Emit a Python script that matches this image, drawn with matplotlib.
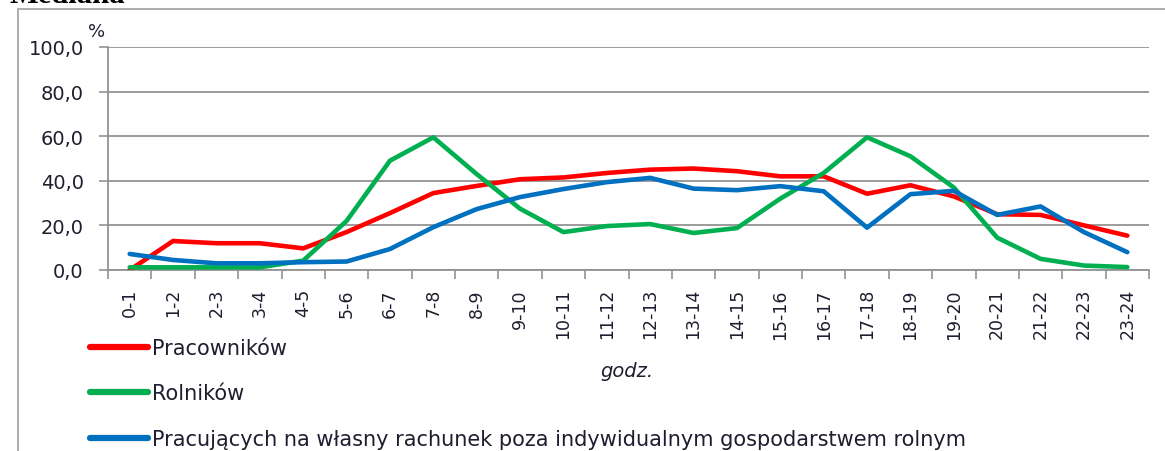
import matplotlib
matplotlib.use("Agg")
import matplotlib.pyplot as plt
from matplotlib.patches import Rectangle
from matplotlib.ticker import FixedLocator, NullFormatter

categories = ["0-1", "1-2", "2-3", "3-4", "4-5", "5-6", "6-7", "7-8", "8-9", "9-10",
              "10-11", "11-12", "12-13", "13-14", "14-15", "15-16", "16-17", "17-18",
              "18-19", "19-20", "20-21", "21-22", "22-23", "23-24"]
pracownikow = [0.0, 13.0, 12.0, 12.0, 9.7, 17.0, 25.5, 34.5, 37.7, 40.7, 41.5, 43.5,
               45.0, 45.5, 44.3, 42.0, 42.0, 34.2, 38.0, 33.0, 25.0, 24.7, 20.0, 15.4]
rolnikow = [1.2, 1.2, 1.2, 1.2, 4.2, 22.0, 49.0, 59.5, 43.0, 27.5, 17.0, 19.7,
            20.6, 16.6, 18.8, 32.0, 43.5, 59.5, 51.0, 37.0, 14.5, 5.0, 2.0, 1.3]
wlasny = [7.2, 4.5, 3.0, 3.0, 3.5, 3.8, 9.4, 19.2, 27.3, 32.7, 36.3, 39.4,
          41.3, 36.5, 35.8, 37.6, 35.3, 19.0, 34.0, 35.5, 24.7, 28.5, 17.0, 8.0]
labels = ["Pracowników", "Rolników",
          "Pracujących na własny rachunek poza indywidualnym gospodarstwem rolnym"]
yticks = [0, 20, 40, 60, 80, 100]
ytick_labels = ["0,0", "20,0", "40,0", "60,0", "80,0", "100,0"]

W, H = 1165, 452
plt.rcParams['font.family'] = ['DejaVu Sans']
fig = plt.figure(figsize=(W / 100, H / 100), dpi=100)

txt_color = '#1e1e30'
grid_color = '#939393'

# outer chart frame
fig.patches.append(Rectangle((18 / W, -0.1), 1.2, 1 - 10 / H + 0.1, transform=fig.transFigure,
                             fill=False, edgecolor='#a0a0a0', linewidth=1.2, zorder=0))
fig.text(10 / W, 1 - 3 / H, "Mediana", fontfamily='Liberation Serif', fontweight='bold',
         fontsize=22, va='baseline', ha='left', color='#000000')

ax = fig.add_axes([108 / W, 1 - 271 / H, (1149 - 108) / W, (271 - 48) / H])
x = list(range(len(categories)))
ax.plot(x, pracownikow, color='#ff0000', lw=3.3, label=labels[0], solid_capstyle='round', zorder=3)
ax.plot(x, rolnikow, color='#00b050', lw=3.3, label=labels[1], solid_capstyle='round', zorder=3)
ax.plot(x, wlasny, color='#0070c0', lw=3.3, label=labels[2], solid_capstyle='round', zorder=3)

ax.set_xlim(-0.5, len(categories) - 0.5)
ax.set_ylim(0, 100)
ax.set_yticks(yticks)
ax.set_yticklabels(ytick_labels)
ax.set_xticks(x)
ax.set_xticklabels(categories, rotation=90, va='top', ha='center')
ax.xaxis.set_minor_locator(FixedLocator([i - 0.5 for i in range(len(categories) + 1)]))
ax.xaxis.set_minor_formatter(NullFormatter())
ax.tick_params(axis='x', which='major', length=0, pad=13, labelsize=12.5, labelcolor=txt_color)
ax.tick_params(axis='x', which='minor', length=6.5, width=1.2, color=grid_color, direction='out')
ax.tick_params(axis='y', length=6.5, width=1.2, color=grid_color, pad=11, labelsize=14,
               labelcolor=txt_color)
ax.grid(axis='y', color=grid_color, lw=1.3, zorder=1)
ax.set_axisbelow(True)
for s in ['top', 'right']:
    ax.spines[s].set_visible(False)
for s in ['left', 'bottom']:
    ax.spines[s].set_color(grid_color)
    ax.spines[s].set_linewidth(1.3)

ax.text(-0.019, 1.03, "%", transform=ax.transAxes, fontsize=13, color=txt_color,
        ha='left', va='bottom')
fig.text(627 / W, 1 - 372 / H, "godz.", fontstyle='italic', fontsize=14, color=txt_color,
         ha='center', va='center')

leg = fig.legend(loc='upper left', bbox_to_anchor=(90 / W, 1 - 339 / H), frameon=False,
                 fontsize=15, handlelength=2.8, handletextpad=0.2, labelspacing=1.22,
                 borderpad=0, borderaxespad=0, labelcolor=txt_color)
for line in leg.get_lines():
    line.set_linewidth(4.5)

fig.savefig("out.png", dpi=100)
